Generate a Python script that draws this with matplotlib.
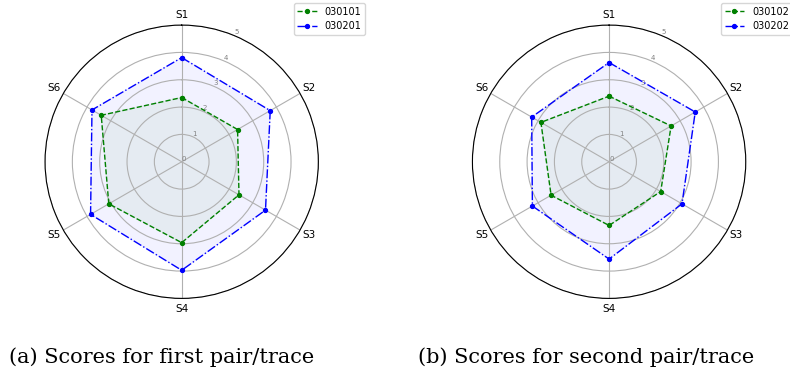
import numpy as np
import matplotlib
matplotlib.use("Agg")
import matplotlib.pyplot as plt

# radar scores
labels = ['S1', 'S2', 'S3', 'S4', 'S5', 'S6']

first_a = [2.35, 2.36, 2.42, 2.96, 3.08, 3.40]   # 030101
first_b = [3.81, 3.74, 3.54, 3.97, 3.85, 3.79]   # 030201
second_a = [2.40, 2.62, 2.18, 2.33, 2.45, 2.88]  # 030102
second_b = [3.63, 3.64, 3.08, 3.56, 3.24, 3.27]  # 030202

names_first = ['030101', '030201']
names_second = ['030102', '030202']
captions = ['(a) Scores for first pair/trace', '(b) Scores for second pair/trace']

angles = np.linspace(0, 2 * np.pi, len(labels), endpoint=False)
angles_closed = np.concatenate([angles, angles[:1]])


def radar(ax, vals_a, vals_b, names):
    ax.set_theta_offset(np.pi / 2)
    ax.set_theta_direction(-1)
    for vals, col, ls, name in [(vals_a, 'g', '--', names[0]),
                                (vals_b, 'b', '-.', names[1])]:
        v = np.concatenate([vals, vals[:1]])
        ax.plot(angles_closed, v, color=col, ls=ls, lw=1, marker='o',
                markersize=2.8, label=name)
        ax.fill(angles_closed, v, color=col, alpha=0.05)
    ax.set_xticks(angles)
    ax.set_xticklabels(labels, fontsize=7.5)
    ax.tick_params(axis='x', pad=-3)
    ax.set_ylim(0, 5)
    ax.set_yticks([0, 1, 2, 3, 4, 5])
    ax.set_yticklabels(['0', '1', '2', '3', '4', '5'], fontsize=5, color='gray')
    ax.grid(color='#b0b0b0', lw=0.8)
    ax.legend(loc='upper right', bbox_to_anchor=(1.19, 1.10), fontsize=7)


fig = plt.figure(figsize=(7.9, 3.74), dpi=100)
ax1 = fig.add_axes([0.057, 0.202, 0.346, 0.731], projection='polar')
ax2 = fig.add_axes([0.598, 0.202, 0.346, 0.731], projection='polar')

radar(ax1, first_a, first_b, names_first)
radar(ax2, second_a, second_b, names_second)

fig.text(161.5 / 790, 0.045, captions[0], ha='center', va='center',
         fontsize=15, family='DejaVu Serif')
fig.text(586 / 790, 0.045, captions[1], ha='center', va='center',
         fontsize=15, family='DejaVu Serif')

fig.savefig('out.png', dpi=100)
